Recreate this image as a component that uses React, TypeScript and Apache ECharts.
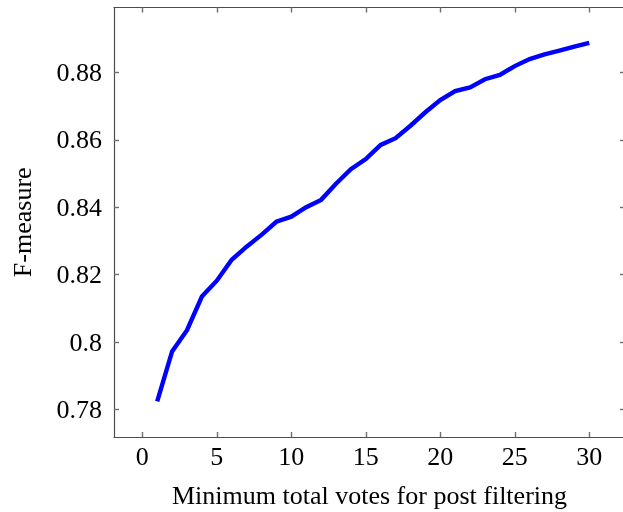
import React, { useEffect, useRef } from "react";
import * as echarts from "echarts";

const votes = [1, 2, 3, 4, 5, 6, 7, 8, 9, 10, 11, 12, 13, 14, 15, 16, 17, 18, 19, 20, 21, 22, 23, 24, 25, 26, 27, 28, 29, 30];
const fMeasure = [
  0.7824, 0.7972, 0.8035, 0.8135, 0.8182, 0.8244, 0.8283, 0.8318, 0.8357, 0.8372,
  0.8400, 0.8422, 0.8470, 0.8513, 0.8543, 0.8585, 0.8605, 0.8642, 0.8682, 0.8718,
  0.8745, 0.8756, 0.8780, 0.8793, 0.8819, 0.8840, 0.8854, 0.8865, 0.8877, 0.8888,
];
const xTicks = [0, 5, 10, 15, 20, 25, 30];
const yTicks = [0.78, 0.8, 0.82, 0.84, 0.86, 0.88];
const xTitle = "Minimum total votes for post filtering";
const yTitle = "F-measure";

const FONT = "Liberation Serif";

export default function App() {
  const ref = useRef<HTMLDivElement>(null);
  useEffect(() => {
    if (!ref.current) return;
    const chart = echarts.init(ref.current, null, { renderer: "svg" });
    const axisLine = { show: true, onZero: false, lineStyle: { color: "#4d4d4d", width: 1.2 } };
    const tickStyle = { color: "#6e6e6e", width: 1.4 };
    const xCommon = {
      type: "value" as const,
      min: -1.9,
      max: 32.4,
      splitLine: { show: false },
      axisLine,
    };
    const yCommon = {
      type: "value" as const,
      min: 0.7718,
      max: 0.8993,
      splitLine: { show: false },
      axisLine,
    };
    chart.setOption({
      animation: false,
      grid: { left: 114, top: 7.5, right: -2, bottom: 75, containLabel: false, outerBoundsMode: "none" },
      xAxis: [
        {
          ...xCommon,
          position: "bottom",
          name: xTitle,
          nameLocation: "middle",
          nameGap: 45,
          nameTextStyle: { fontFamily: FONT, fontSize: 26, color: "#000" },
          axisTick: { show: true, inside: true, length: 5, lineStyle: tickStyle, customValues: xTicks },
          axisLabel: {
            show: true,
            customValues: xTicks,
            fontFamily: FONT,
            fontSize: 26,
            color: "#000",
            margin: 6,
          },
        },
        {
          ...xCommon,
          position: "top",
          axisTick: { show: true, inside: true, length: 5, lineStyle: tickStyle, customValues: xTicks },
          axisLabel: { show: false, customValues: xTicks },
        },
      ],
      yAxis: [
        {
          ...yCommon,
          position: "left",
          name: yTitle,
          nameLocation: "middle",
          nameGap: 79,
          nameRotate: 90,
          nameTextStyle: { fontFamily: FONT, fontSize: 26, color: "#000" },
          axisTick: { show: true, inside: true, length: 5, lineStyle: tickStyle, customValues: yTicks },
          axisLabel: {
            show: true,
            customValues: yTicks,
            fontFamily: FONT,
            fontSize: 26,
            color: "#000",
            margin: 12,
            formatter: (v: number) => String(Number(v.toFixed(2))),
          },
        },
        {
          ...yCommon,
          position: "right",
          axisTick: { show: true, inside: true, length: 5, lineStyle: tickStyle, customValues: yTicks },
          axisLabel: { show: false, customValues: yTicks },
        },
      ],
      series: [
        {
          type: "line",
          xAxisIndex: 0,
          yAxisIndex: 0,
          data: votes.map((v, i) => [v, fMeasure[i]]),
          showSymbol: false,
          symbol: "none",
          lineStyle: { color: "#0000ff", width: 4.4, cap: "butt", join: "miter" },
        },
      ],
    });
    return () => chart.dispose();
  }, []);
  return <div ref={ref} style={{ position: "fixed", left: 0, top: 0, width: 623, height: 512 }} />;
}
